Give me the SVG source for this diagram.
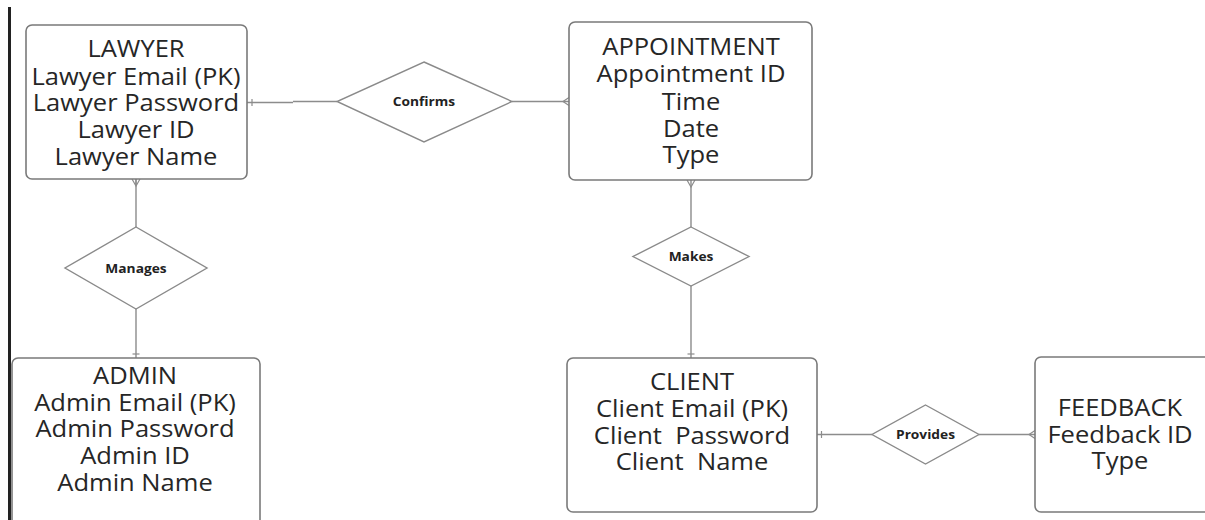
<svg xmlns="http://www.w3.org/2000/svg" width="1205" height="520" viewBox="0 0 1205 520">
  <style>
    .entity { fill: #ffffff; stroke: #7a7a7a; stroke-width: 1.6; }
    .rel { fill: #ffffff; stroke: #8a8a8a; stroke-width: 1.4; }
    .conn { fill: none; stroke: #8c8c8c; stroke-width: 1.4; }
    .mark { fill: none; stroke: #8c8c8c; stroke-width: 1.2; }
    .etext { font-family: "Open Sans", "Noto Sans", "DejaVu Sans", sans-serif; font-size: 23px; fill: #262626; text-anchor: middle; white-space: pre; }
    .rtext { font-family: "Open Sans", "Noto Sans", "DejaVu Sans", sans-serif; font-size: 12.5px; font-weight: bold; fill: #222222; text-anchor: middle; }
  </style>
  <rect width="1205" height="520" fill="#ffffff"/>
  <!-- left page border -->
  <rect x="8" y="7" width="3" height="513" fill="#222222"/>

  <!-- connectors with cardinality marks -->
  <g id="connectors">
    <!-- LAWYER - Confirms - APPOINTMENT -->
    <path class="conn" d="M247 102.5 H293 M293 101.5 H337"/>
    <path class="mark" d="M252 99 V106"/>
    <path class="conn" d="M512 101.5 H569"/>
    <path class="mark" d="M569 97.5 L563 101.5 L569 105.5"/>
    <!-- LAWYER - Manages - ADMIN -->
    <path class="conn" d="M136 179 V227 M136 309 V358"/>
    <path class="mark" d="M132 179 L136 186 L140 179 M136 179 V186"/>
    <path class="mark" d="M132.5 354 H139.5"/>
    <!-- APPOINTMENT - Makes - CLIENT -->
    <path class="conn" d="M691 180 V227 M691 286 V358"/>
    <path class="mark" d="M687 180 L691 187 L695 180"/>
    <path class="mark" d="M687.5 354 H694.5"/>
    <!-- CLIENT - Provides - FEEDBACK -->
    <path class="conn" d="M817 434.5 H872 M979 434.5 H1035"/>
    <path class="mark" d="M821.5 431 V438"/>
    <path class="mark" d="M1035 430.5 L1029 434.5 L1035 438.5"/>
  </g>

  <g id="lawyer">
    <rect class="entity" x="26" y="25" width="221" height="154" rx="6"/>
    <g transform="translate(136 0) scale(1.11 1)">
      <text class="etext" x="0" y="57">LAWYER</text>
      <text class="etext" x="0" y="85">Lawyer Email (PK)</text>
      <text class="etext" x="0" y="111">Lawyer Password</text>
      <text class="etext" x="0" y="138">Lawyer ID</text>
      <text class="etext" x="0" y="165">Lawyer Name</text>
    </g>
  </g>

  <g id="appointment">
    <rect class="entity" x="569" y="22" width="243" height="158" rx="6"/>
    <g transform="translate(691 0) scale(1.11 1)">
      <text class="etext" x="0" y="55">APPOINTMENT</text>
      <text class="etext" x="0" y="82">Appointment ID</text>
      <text class="etext" x="0" y="110">Time</text>
      <text class="etext" x="0" y="137">Date</text>
      <text class="etext" x="0" y="163">Type</text>
    </g>
  </g>

  <g id="admin">
    <rect class="entity" x="12" y="358" width="248" height="170" rx="6"/>
    <g transform="translate(135 0) scale(1.11 1)">
      <text class="etext" x="0" y="384">ADMIN</text>
      <text class="etext" x="0" y="411">Admin Email (PK)</text>
      <text class="etext" x="0" y="437">Admin Password</text>
      <text class="etext" x="0" y="464">Admin ID</text>
      <text class="etext" x="0" y="491">Admin Name</text>
    </g>
  </g>

  <g id="client">
    <rect class="entity" x="567" y="358" width="250" height="154" rx="6"/>
    <g transform="translate(692 0) scale(1.11 1)">
      <text class="etext" x="0" y="390">CLIENT</text>
      <text class="etext" x="0" y="417">Client Email (PK)</text>
      <text class="etext" x="0" y="444">Client  Password</text>
      <text class="etext" x="0" y="470">Client  Name</text>
    </g>
  </g>

  <g id="feedback">
    <rect class="entity" x="1035" y="357" width="176" height="155" rx="6"/>
    <g transform="translate(1120 0) scale(1.11 1)">
      <text class="etext" x="0" y="416">FEEDBACK</text>
      <text class="etext" x="0" y="443">Feedback ID</text>
      <text class="etext" x="0" y="469">Type</text>
    </g>
  </g>

  <g id="confirms">
    <polygon class="rel" points="424,62 512,101.5 424,142 337,101.5"/>
    <text class="rtext" x="0" y="106" transform="translate(424 0) scale(1.1 1)">Confirms</text>
  </g>

  <g id="manages">
    <polygon class="rel" points="136,227 207,268 136,309 65,268"/>
    <text class="rtext" x="0" y="273" transform="translate(136 0) scale(1.1 1)">Manages</text>
  </g>

  <g id="makes">
    <polygon class="rel" points="691,227 749,256.5 691,286 633,256.5"/>
    <text class="rtext" x="0" y="261" transform="translate(691 0) scale(1.1 1)">Makes</text>
  </g>

  <g id="provides">
    <polygon class="rel" points="925.5,405 979,434.5 925.5,464 872,434.5"/>
    <text class="rtext" x="0" y="439" transform="translate(925.5 0) scale(1.1 1)">Provides</text>
  </g>
</svg>
